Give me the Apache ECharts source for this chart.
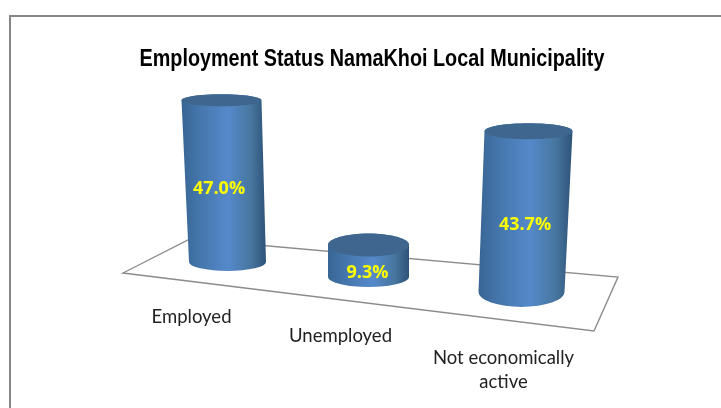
<!DOCTYPE html>
<html>
<head>
<meta charset="utf-8">
<style>html,body{margin:0;padding:0;background:#fff}#chart{width:721px;height:408px}</style>
<script src="https://cdn.jsdelivr.net/npm/echarts@6/dist/echarts.min.js"></script>
</head>
<body>
<div id="chart"></div>
<script>
const chartTitle = 'Employment Status NamaKhoi Local Municipality';
const categories = ['Employed', 'Unemployed', 'Not economically\nactive'];
const shares = [47.0, 9.3, 43.7];

// Perspective of each cylinder on the tilted floor, relative to its axis position.
const perspective = [
  { dx: 3,  floorDy: -15, stretch: 1,    lean: -6, topRx: 40,   botRx: 38.5, topRy: 6,    botRy: 9,  labelDx: -5.5, labelDy: 8,  tickDx: -33, tickDy: 40 },
  { dx: -5, floorDy: 0,   stretch: 1,    lean: 0,  topRx: 40.5, botRx: 40.5, topRy: 11.5, botRy: 10, labelDx: -1,   labelDy: 12, tickDx: -33, tickDy: 59 },
  { dx: -1, floorDy: 15,  stretch: 1.07, lean: 7,  topRx: 44,   botRx: 43,   topRy: 8,    botRy: 15, labelDx: 0,    labelDy: 13, tickDx: -19, tickDy: 93 }
];

const sideFill = new echarts.graphic.LinearGradient(0, 0, 1, 0, [
  { offset: 0,    color: '#386594' },
  { offset: 0.2,  color: '#4475aa' },
  { offset: 0.55, color: '#5589ca' },
  { offset: 0.82, color: '#47769f' },
  { offset: 1,    color: '#2e5379' }
]);

function drawCylinder(params, api) {
  const i = api.value(0);
  const v = api.value(1);
  const p = perspective[i];
  const zero = api.coord([i, 0]);
  const peak = api.coord([i, v]);
  const botX = zero[0] + p.dx;
  const botY = zero[1] + p.floorDy;
  const topX = botX + p.lean;
  const topY = botY - (zero[1] - peak[1]) * p.stretch;
  const side =
    `M${topX - p.topRx} ${topY} L${botX - p.botRx} ${botY} ` +
    `A${p.botRx} ${p.botRy} 0 0 0 ${botX + p.botRx} ${botY} ` +
    `L${topX + p.topRx} ${topY} ` +
    `A${p.topRx} ${p.topRy} 0 0 0 ${topX - p.topRx} ${topY} Z`;
  return {
    type: 'group',
    children: [
      { type: 'path', shape: { pathData: side }, style: { fill: sideFill } },
      { type: 'ellipse', shape: { cx: topX, cy: topY, rx: p.topRx, ry: p.topRy },
        style: { fill: '#3e668f' } },
      { type: 'text',
        style: { x: (topX + botX) / 2 + p.labelDx, y: (topY + botY) / 2 + p.labelDy,
          text: v.toFixed(1) + '%', fill: '#ffff00', align: 'center', verticalAlign: 'middle',
          font: 'bold 18px "Open Sans"' } },
      { type: 'text',
        style: { x: zero[0] + p.tickDx, y: zero[1] + p.tickDy,
          text: categories[i], fill: '#222222', align: 'center', verticalAlign: 'middle',
          lineHeight: 24, font: '18.5px Lato' } }
    ]
  };
}

const chart = echarts.init(document.getElementById('chart'), null, { renderer: 'canvas' });
chart.setOption({
  animation: false,
  backgroundColor: '#ffffff',
  grid: { left: 150, width: 447, top: 70.6, bottom: 131 },
  xAxis: { type: 'category', data: categories, show: false },
  yAxis: { type: 'value', min: 0, max: 60, show: false },
  graphic: [
    { type: 'polyline', silent: true, z: 0,
      shape: { points: [[10, 408], [10, 16], [721, 16]] },
      style: { stroke: '#868686', lineWidth: 2, fill: null } },
    { type: 'polygon', silent: true, z: 0,
      shape: { points: [[123, 273], [190, 239], [618, 277], [594, 331]] },
      style: { stroke: '#8c8c8c', lineWidth: 1.4, fill: null } },
    // Condensed bold heading, squeezed horizontally from the regular bold face
    { type: 'text', silent: true, z: 10, x: 372, y: 60, scaleX: 0.86,
      style: { text: chartTitle, align: 'center', verticalAlign: 'middle',
        fill: '#000000', font: 'bold 23px "Liberation Sans"' } }
  ],
  series: [{
    type: 'custom',
    z: 5,
    coordinateSystem: 'cartesian2d',
    renderItem: drawCylinder,
    encode: { x: 0, y: 1 },
    data: shares.map((v, i) => [i, v])
  }]
});
</script>
</body>
</html>
